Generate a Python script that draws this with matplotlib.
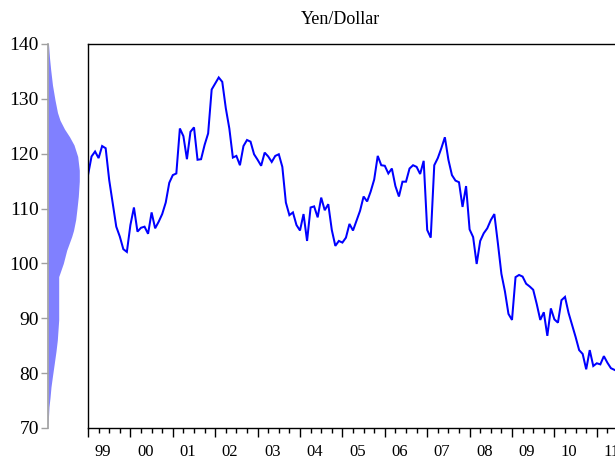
import numpy as np
import matplotlib
matplotlib.use("Agg")
import matplotlib.pyplot as plt
from matplotlib.ticker import MultipleLocator, FixedLocator, FuncFormatter, NullFormatter

# ---- data (monthly Yen/Dollar) ----
start_year = 1999
yen_dollar = [
    116.1, 119.5, 120.4, 119.2, 121.4, 121.0, 115.2, 111.0, 106.7, 104.9, 102.6, 102.1,
    107.0, 110.2, 105.8, 106.5, 106.7, 105.4, 109.3, 106.4, 107.6, 109.0, 111.1, 114.7,
    116.1, 116.4, 124.6, 123.2, 119.0, 124.0, 124.8, 118.9, 119.0, 121.6, 123.7, 131.7,
    132.8, 133.9, 133.1, 128.3, 124.6, 119.3, 119.6, 117.9, 121.4, 122.5, 122.2, 119.9,
    118.9, 117.8,
    120.2, 119.5, 118.5, 119.6, 119.9, 117.6, 111.1, 108.8, 109.3, 107.0, 106.0, 109.0,
    104.1, 110.2, 110.4, 108.4, 112.0, 109.7, 110.8, 106.1, 103.2, 104.1, 103.8, 104.7,
    107.2, 106.0, 107.8, 109.6, 112.2, 111.3, 113.1, 115.3, 119.6, 117.9, 117.8, 116.4,
    117.3, 114.1, 112.2, 114.9, 114.9, 117.3, 117.9, 117.6, 116.3, 118.7, 106.1, 104.7,
    117.9, 119.2, 121.0, 123.0, 118.9, 116.1, 115.1, 114.8, 110.3, 114.1, 106.2, 104.8,
    99.9, 104.1, 105.5, 106.4, 107.9, 109.0, 103.7, 98.1, 94.9, 90.8, 89.7, 97.5,
    97.9, 97.6, 96.3, 95.8, 95.2, 92.6, 89.7, 91.1, 86.8, 91.8, 89.8, 89.2,
    93.3, 93.9, 91.0, 88.8, 86.6, 84.2, 83.5, 80.7, 84.2, 81.3, 81.8, 81.6,
    83.1, 81.9, 80.9, 80.6,
]

# distribution shown on the left axis (level -> relative density)
density_levels = [140, 137.5, 135.3, 132.5, 129.8, 127.5, 126.1, 124.5, 123.1, 121.6, 119.5,
                  117, 115, 112.2, 110, 108, 106, 104.9, 102.4, 100, 97.9, 97.6, 93,
                  89.7, 86, 84, 81.8, 79.5, 77.5, 75.5, 73.9, 71.4, 70]
density_values = [0.5, 1.5, 2.7, 4.5, 7, 9.5, 12, 16.5, 21.5, 26, 29.7,
                  31.3, 31.3, 30.3, 29, 27.7, 25.5, 23.7, 18.7, 15.3, 11.3, 10.7, 10.7,
                  10.7, 9.3, 8, 6.3, 4.5, 3, 2, 1, 0.3, 0]
density_values = [v / 31.3 for v in density_values]

y_ticks = [70, 80, 90, 100, 110, 120, 130, 140]
year_labels = ["99", "00", "01", "02", "03", "04", "05", "06", "07", "08", "09", "10", "11"]
title = "Yen/Dollar"

# ---- figure ----
W, H = 615, 458
PX_PER_YEAR = 42.4
fig = plt.figure(figsize=(W / 100, H / 100), dpi=100)
serif = ["Liberation Serif", "DejaVu Serif"]

x = start_year + np.arange(len(yen_dollar)) / 12.0
span = 13.5

ax = fig.add_axes([88 / W, 30 / H, span * PX_PER_YEAR / W, 384 / H])
ax.plot(x, yen_dollar, color="#0000ff", lw=1.45, solid_joinstyle="miter")
ax.set_xlim(start_year, start_year + span)
ax.set_ylim(70, 140)
for s in ["left", "top", "bottom"]:
    ax.spines[s].set_color("black")
    ax.spines[s].set_linewidth(1.0)
ax.spines["right"].set_visible(False)
ax.tick_params(axis="y", left=False, labelleft=False)
ax.xaxis.set_major_locator(MultipleLocator(1))
ax.xaxis.set_minor_locator(MultipleLocator(0.25))
ax.xaxis.set_major_formatter(NullFormatter())
ax.xaxis.set_minor_formatter(NullFormatter())
ax.tick_params(axis="x", which="major", length=6.5, width=1.0, color="black", direction="out")
ax.tick_params(axis="x", which="minor", length=3.5, width=1.0, color="black", direction="out")

# year labels placed under each year interval
lab_ax = ax.secondary_xaxis("bottom")
lab_pos = [start_year + i + 0.35 for i in range(len(year_labels))]
lab_ax.xaxis.set_major_locator(FixedLocator(lab_pos))
lab_ax.xaxis.set_major_formatter(FuncFormatter(lambda v, p: year_labels[p] if p is not None and p < len(year_labels) else ""))
lab_ax.tick_params(axis="x", length=0, pad=11.5, labelsize=12)
lab_ax.spines["bottom"].set_visible(False)
for lab in lab_ax.get_xticklabels():
    lab.set_family(serif)

# left density panel
axd = fig.add_axes([48 / W, 30 / H, 40 / W, 384 / H])
axd.fill_betweenx(density_levels, 0, density_values, color="#8080ff", lw=0)
axd.set_ylim(70, 140)
axd.set_xlim(0, 40 / 31.3)
for s in ["right", "top", "bottom"]:
    axd.spines[s].set_visible(False)
axd.spines["left"].set_color("#a0a0a0")
axd.spines["left"].set_linewidth(1.2)
axd.set_xticks([])
axd.set_yticks(y_ticks)
axd.tick_params(axis="y", length=5, width=1.0, color="#a0a0a0", pad=1.5, labelsize=14)
for lab in axd.get_yticklabels():
    lab.set_family(serif)
axd.patch.set_alpha(0)

fig.text(340 / W, 1 - 20 / H, title, ha="center", va="center", fontsize=13, family=serif)

fig.savefig("out.png", dpi=100)
